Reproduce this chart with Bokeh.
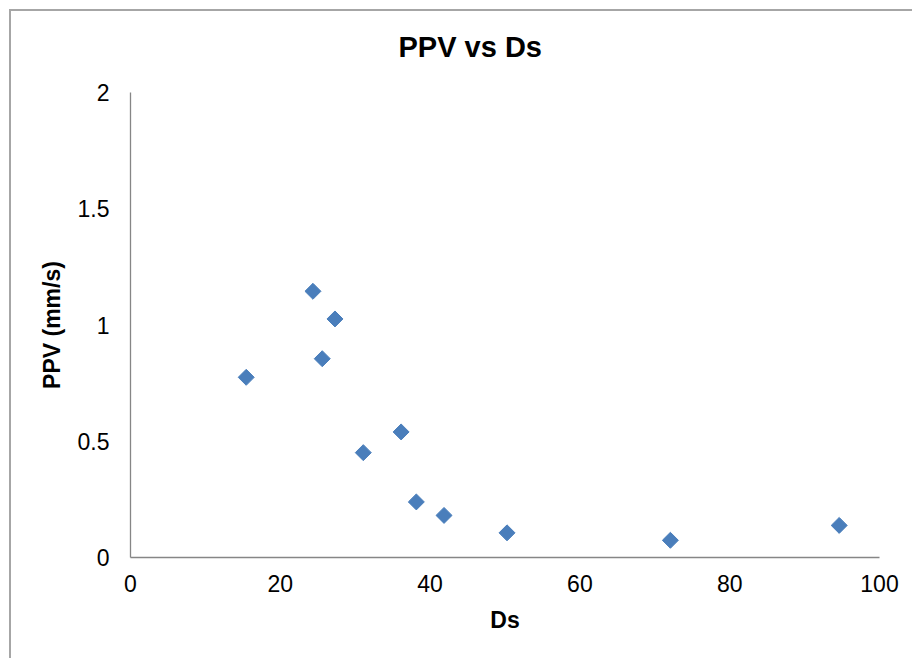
from bokeh.plotting import figure
from bokeh.models import Range1d, FixedTicker, Title
from bokeh.embed import file_html
from bokeh.resources import INLINE
import numpy as np

# ---- data ----
ds = [15.45, 24.36, 27.30, 25.60, 31.08, 36.13, 38.16, 41.86, 50.27, 72.08, 94.62]
ppv = [0.775, 1.145, 1.026, 0.855, 0.451, 0.540, 0.239, 0.181, 0.106, 0.074, 0.138]
x_ticks = [0, 20, 40, 60, 80, 100]
x_tick_labels = ["0", "20", "40", "60", "80", "100"]
y_ticks = [0, 0.5, 1, 1.5, 2]
y_tick_labels = ["0", "0.5", "1", "1.5", "2"]
title_text = "PPV vs Ds"
x_title = "Ds"
y_title = "PPV (mm/s)"

FONT = "Liberation Sans"
W, H = 903, 649

p = figure(width=W, height=H, output_backend="svg", toolbar_location=None,
           x_range=Range1d(0, 100), y_range=Range1d(0, 2),
           min_border_left=119, min_border_top=81,
           min_border_right=W - 119 - 749, min_border_bottom=H - 81 - 465,
           title=title_text)
p.margin = (9, 0, 0, 9)
p.styles = {"border-top": "2px solid #a6a6a6", "border-left": "2px solid #a6a6a6"}
p.outline_line_color = None
p.grid.visible = False
p.background_fill_color = "white"
p.border_fill_color = "white"

p.title.text_font = FONT
p.title.text_font_size = "29px"
p.title.text_font_style = "bold"
p.title.text_color = "black"
p.title.align = "left"
p.title.offset = 268
p.title.standoff = 0

# blank spacer between the title and the plot frame
spacer = Title(text=" ", text_font=FONT, text_font_size="10px", standoff=17)
p.add_layout(spacer, "above")

p.scatter(ds, ppv, marker="square", angle=np.pi / 4, size=11.3,
          fill_color="#4A7EBB", line_color="#4A7EBB")

for ax in (p.xaxis[0], p.yaxis[0]):
    ax.axis_line_color = "#868686"
    ax.axis_line_width = 1.3
    ax.major_tick_in = 0
    ax.major_tick_out = 0
    ax.minor_tick_in = 0
    ax.minor_tick_out = 0
    ax.major_label_text_font = FONT
    ax.major_label_text_font_size = "23px"
    ax.major_label_text_color = "black"
    ax.axis_label_text_font = FONT
    ax.axis_label_text_font_size = "23px"
    ax.axis_label_text_font_style = "bold"
    ax.axis_label_text_color = "black"

p.xaxis.ticker = FixedTicker(ticks=x_ticks)
p.xaxis.major_label_overrides = dict(zip(x_ticks, x_tick_labels))
p.yaxis.ticker = FixedTicker(ticks=y_ticks)
p.yaxis.major_label_overrides = dict(zip(y_ticks, y_tick_labels))
p.xaxis.axis_label = x_title
p.yaxis.axis_label = y_title
p.xaxis.major_label_standoff = 17
p.yaxis.major_label_standoff = 21
p.xaxis.axis_label_standoff = 12
p.yaxis.axis_label_standoff = 10

open("out.html", "w").write(file_html(p, INLINE))
